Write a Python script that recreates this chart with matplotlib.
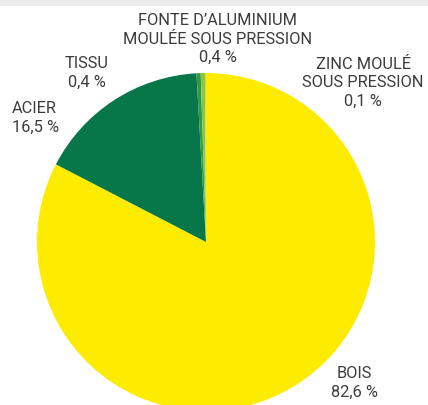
import matplotlib
matplotlib.use("Agg")
import matplotlib.pyplot as plt
from matplotlib.patches import Rectangle

labels = ["BOIS", "ACIER", "TISSU", "FONTE D\u2019ALUMINIUM\nMOULÉE SOUS PRESSION", "ZINC MOULÉ\nSOUS PRESSION"]
values = [82.6, 16.5, 0.4, 0.4, 0.1]
colors = ["#fdec00", "#07774a", "#2f9a48", "#8cc63f", "#c9dc5a"]

# label anchor points (axes data units, pie radius = 1)
label_pos = [(0.876, -0.834), (-1.148, 0.734), (-0.704, 1.0), (0.071, 1.201), (0.929, 0.941)]
label_ha = ["center", "left", "center", "center", "center"]

plt.rcParams['font.family'] = ['Roboto', 'DejaVu Sans']

fig = plt.figure(figsize=(4.28, 4.05), dpi=100)
ax = fig.add_axes([0, 0, 1, 1])
ax.axis("off")

ax.pie(values, colors=colors, startangle=90, counterclock=False, radius=1.0,
       wedgeprops=dict(linewidth=0))

r_px = 169.0
cx, cy = 206.0, 242.0
ax.set_xlim(-cx / r_px, (428 - cx) / r_px)
ax.set_ylim(-(405 - cy) / r_px, cy / r_px)
ax.set_aspect("auto")

for lab, val, (x, y), ha in zip(labels, values, label_pos, label_ha):
    txt = lab + "\n" + f"{val:.1f}".replace(".", ",") + " %"
    ax.text(x, y, txt, ha=ha, va="center", fontsize=11.8, color="#3c3c3c",
            linespacing=1.28, multialignment="center" if ha == "center" else "left")

# grey band on top
fig.patches.append(Rectangle((0, 1 - 6 / 405), 1, 6 / 405, transform=fig.transFigure,
                             facecolor="#ebebeb", edgecolor="none"))

fig.savefig("out.png", dpi=100)
